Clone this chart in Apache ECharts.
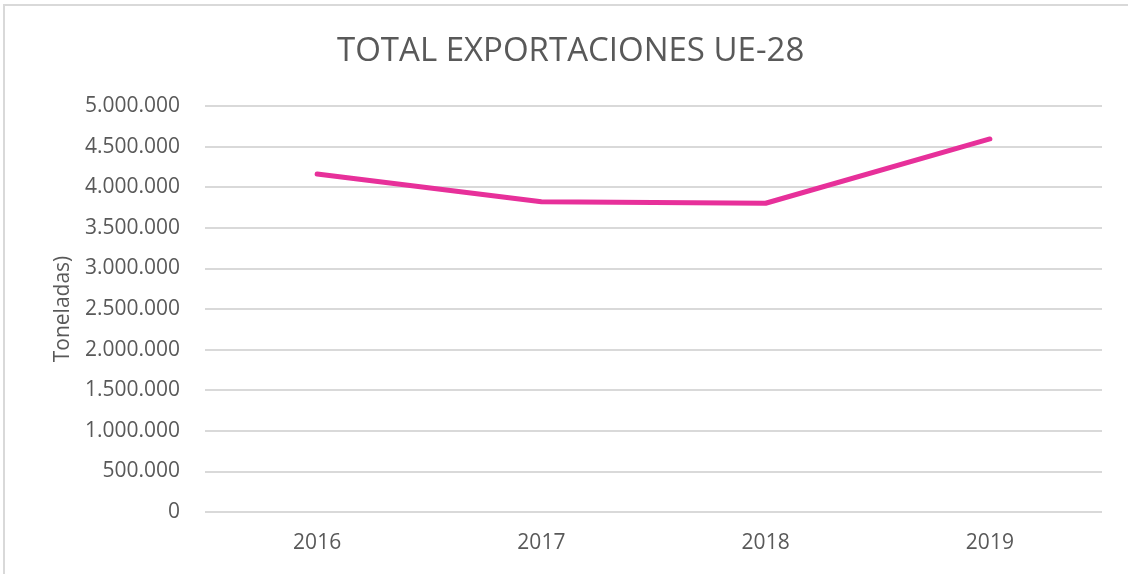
<!DOCTYPE html>
<html>
<head>
<meta charset="utf-8">
<script src="https://cdn.jsdelivr.net/npm/echarts@6/dist/echarts.min.js"></script>
<style>
  html, body { margin: 0; padding: 0; background: #fff; }
  #chart { position: absolute; left: 0; top: 0; width: 1128px; height: 574px; }
  #frame { position: absolute; left: 3px; top: 4px; width: 1140px; height: 590px;
           border: 2px solid #d9d9d9; pointer-events: none; }
</style>
</head>
<body>
<div id="chart"></div>
<div id="frame"></div>
<script>
var years = ['2016', '2017', '2018', '2019'];
var exportaciones = [4162000, 3821000, 3802000, 4594000];

function fmtMiles(v) {
    return String(v).replace(/\B(?=(\d{3})+(?!\d))/g, '.');
}

var myChart = echarts.init(document.getElementById('chart'));

var option = {
    animation: false,
    title: {
        text: 'TOTAL EXPORTACIONES UE-28',
        left: 332,
        top: 30,
        textStyle: { fontFamily: 'Open Sans', fontWeight: 'normal', fontSize: 33, color: '#595959' }
    },
    grid: { left: 205, right: 26, top: 106, bottom: 62 },
    xAxis: {
        type: 'category',
        data: years,
        boundaryGap: true,
        axisLine: { show: false },
        axisTick: { show: false },
        axisLabel: { color: '#595959', fontFamily: 'Open Sans', fontSize: 21, margin: 21 }
    },
    yAxis: {
        type: 'value',
        min: 0,
        max: 5000000,
        interval: 500000,
        name: 'Toneladas)',
        nameLocation: 'middle',
        nameGap: 131,
        nameTextStyle: { color: '#595959', fontFamily: 'Open Sans', fontSize: 21 },
        axisLine: { show: false },
        axisTick: { show: false },
        splitLine: { lineStyle: { color: '#d9d9d9', width: 2 } },
        axisLabel: {
            color: '#595959', fontFamily: 'Open Sans', fontSize: 21, margin: 25,
            formatter: fmtMiles
        }
    },
    series: [{
        type: 'line',
        data: exportaciones,
        symbol: 'none',
        lineStyle: { color: '#E7309A', width: 5, cap: 'round', join: 'round' }
    }]
};

myChart.setOption(option);
</script>
</body>
</html>
